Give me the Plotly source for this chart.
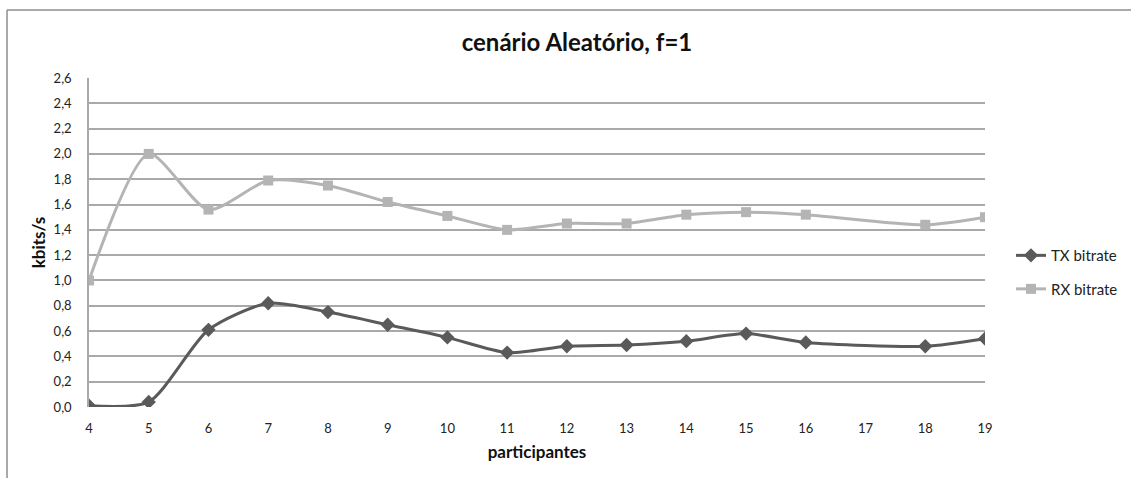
import plotly.graph_objects as go

# Number of participants (no measurement at 17)
participantes = [4, 5, 6, 7, 8, 9, 10, 11, 12, 13, 14, 15, 16, 18, 19]

# Bitrates in kbits/s
tx_bitrate = [0.01, 0.04, 0.61, 0.82, 0.75, 0.65, 0.55, 0.43, 0.48, 0.49, 0.52, 0.58, 0.51, 0.48, 0.54]
rx_bitrate = [1.00, 2.00, 1.56, 1.79, 1.75, 1.62, 1.51, 1.40, 1.45, 1.45, 1.52, 1.54, 1.52, 1.44, 1.50]

y_ticks = [round(0.2 * i, 1) for i in range(14)]
x_ticks = list(range(4, 20))

FONT = "Lato"
TX_COLOR = "#5a5a5a"
RX_COLOR = "#b4b4b4"
GRID_COLOR = "#a9a9a9"

fig = go.Figure()

fig.add_trace(go.Scatter(
    x=participantes, y=tx_bitrate, name="TX bitrate", legendgroup="tx",
    mode="lines+markers",
    line=dict(color=TX_COLOR, width=3, shape="spline", smoothing=0.7),
    marker=dict(symbol="diamond", size=11, color=TX_COLOR),
))
fig.add_trace(go.Scatter(
    x=participantes, y=rx_bitrate, name="RX bitrate", legendgroup="rx",
    mode="lines+markers",
    line=dict(color=RX_COLOR, width=3, shape="spline", smoothing=0.7),
    marker=dict(symbol="square", size=10, color=RX_COLOR),
))

# Outer chart frame (top and left edges)
frame = dict(type="line", xref="paper", yref="paper",
             line=dict(color="#8e8e8e", width=1.5))
fig.add_shape(x0=-0.0915, x1=1.3, y0=1.2067, y1=1.2067, **frame)
fig.add_shape(x0=-0.0915, x1=-0.0915, y0=1.2067, y1=-0.3, **frame)

fig.update_layout(
    width=1131, height=478,
    margin=dict(l=89, r=146, t=78, b=71, autoexpand=False),
    paper_bgcolor="white", plot_bgcolor="white",
    separators=",.",
    font=dict(family=FONT, size=13, color="#222222"),
    title=dict(text="<b>cenário Aleatório, f=1</b>",
               font=dict(family=FONT, size=24, color="#111111"),
               x=0.5446, xref="paper", xanchor="center",
               y=0.91, yanchor="middle"),
    showlegend=True,
    legend=dict(x=1.029, y=0.41, xanchor="left", yanchor="middle",
                traceorder="grouped", tracegroupgap=11,
                font=dict(family=FONT, size=15, color="#222222"),
                itemwidth=30, bgcolor="rgba(0,0,0,0)"),
    xaxis=dict(
        range=[4, 19], tickvals=x_ticks, ticktext=[str(v) for v in x_ticks],
        showgrid=False, zeroline=False,
        showline=False, ticks="", ticklabelstandoff=12,
        tickfont=dict(family=FONT, size=13, color="#222222"),
        title=dict(text="<b>participantes</b>", standoff=11,
                   font=dict(family=FONT, size=17, color="#111111")),
    ),
    yaxis=dict(
        range=[0, 2.6], tickvals=y_ticks, tickformat=".1f",
        showgrid=True, gridcolor=GRID_COLOR, gridwidth=1.5,
        zeroline=False, showline=True, linecolor=GRID_COLOR, linewidth=1.5,
        ticks="", ticklabelstandoff=13,
        tickfont=dict(family=FONT, size=13, color="#222222"),
        title=dict(text="<b>kbits/s</b>", standoff=4,
                   font=dict(family=FONT, size=17, color="#111111")),
    ),
)

fig.write_html("out.html")
